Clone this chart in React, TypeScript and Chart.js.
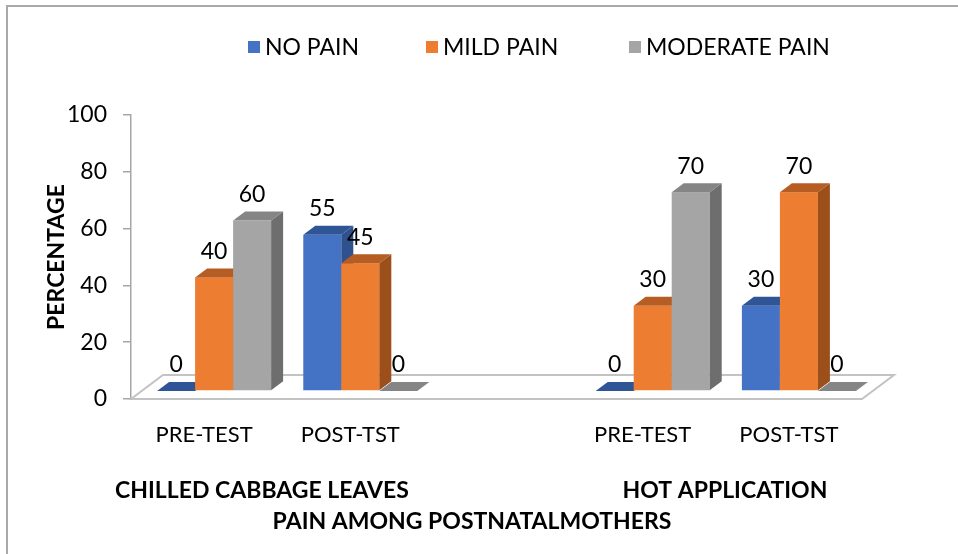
import React, { useEffect, useRef } from "react";
import { Chart, registerables } from "chart.js";

Chart.register(...registerables);

const categories = ["PRE-TEST", "POST-TST", "", "PRE-TEST", "POST-TST"];
const noPain = [0, 55, null, 0, 30];
const mildPain = [40, 45, null, 30, 70];
const moderatePain = [60, 0, null, 70, 0];
const seriesNames = ["NO PAIN", "MILD PAIN", "MODERATE PAIN"];
const groupLabels = ["CHILLED CABBAGE LEAVES", "HOT APPLICATION"];
const xTitle = "PAIN AMONG POSTNATALMOTHERS";
const yTitle = "PERCENTAGE";
const yMin = 0;
const yMax = 100;
const yStep = 20;

const FONT = "Lato, 'Open Sans', sans-serif";
const frontColors = ["#4472c4", "#ed7d31", "#a5a5a5"];
const topColors = ["#2f5597", "#b55d22", "#858585"];
const sideColors = ["#2f528f", "#9c4f1b", "#6e6e6e"];

const FRONT_DX = 10;
const FRONT_DY = -8;
const DEPTH_X = 12;
const DEPTH_Y = -9;
const FLOOR_DX = 32;
const FLOOR_DY = -24;

const legendX = [248, 426, 629];
const groupCenters = [262, 725];

const bar3d = {
  id: "bar3d",
  beforeDatasetDraw() {
    return false;
  },
  afterDatasetsDraw(chart: any) {
    const { ctx, chartArea } = chart;
    const ca = chartArea;
    ctx.save();
    ctx.strokeStyle = "#c3c3c3";
    ctx.lineWidth = 2;
    ctx.beginPath();
    ctx.moveTo(ca.left, ca.bottom);
    ctx.lineTo(ca.right, ca.bottom);
    ctx.lineTo(ca.right + FLOOR_DX, ca.bottom + FLOOR_DY);
    ctx.lineTo(ca.left + FLOOR_DX, ca.bottom + FLOOR_DY);
    ctx.closePath();
    ctx.stroke();

    const labels: any[] = [];
    const n = chart.data.labels.length;
    for (let i = 0; i < n; i++) {
      chart.data.datasets.forEach((ds: any, d: number) => {
        const v = ds.data[i];
        if (v === null || v === undefined) return;
        const el = chart.getDatasetMeta(d).data[i];
        const w = el.width;
        const x0 = el.x - w / 2 + FRONT_DX;
        const x1 = x0 + w;
        const yTop = el.y + FRONT_DY;
        const yBase = el.base + FRONT_DY;
        if (yBase - yTop > 0.5) {
          ctx.fillStyle = frontColors[d];
          ctx.fillRect(x0, yTop, w, yBase - yTop);
          ctx.fillStyle = sideColors[d];
          ctx.beginPath();
          ctx.moveTo(x1, yBase);
          ctx.lineTo(x1, yTop);
          ctx.lineTo(x1 + DEPTH_X, yTop + DEPTH_Y);
          ctx.lineTo(x1 + DEPTH_X, yBase + DEPTH_Y);
          ctx.closePath();
          ctx.fill();
        }
        ctx.fillStyle = topColors[d];
        ctx.beginPath();
        ctx.moveTo(x0, yTop);
        ctx.lineTo(x1, yTop);
        ctx.lineTo(x1 + DEPTH_X, yTop + DEPTH_Y);
        ctx.lineTo(x0 + DEPTH_X, yTop + DEPTH_Y);
        ctx.closePath();
        ctx.fill();
        labels.push({ x: x0 + w / 2, y: yTop - 26, t: String(v) });
      });
    }
    ctx.fillStyle = "#000";
    ctx.font = `23px ${FONT}`;
    ctx.textAlign = "center";
    ctx.textBaseline = "middle";
    labels.forEach((l) => ctx.fillText(l.t, l.x, l.y));
    ctx.restore();
  },
  afterDraw(chart: any) {
    const { ctx } = chart;
    ctx.save();
    ctx.font = `23px ${FONT}`;
    ctx.textBaseline = "middle";
    ctx.textAlign = "left";
    chart.data.datasets.forEach((ds: any, d: number) => {
      ctx.fillStyle = ds.backgroundColor;
      ctx.fillRect(legendX[d], 41, 12, 12);
      ctx.fillStyle = "#000";
      ctx.fillText(ds.label, legendX[d] + 17, 48);
    });
    ctx.font = `bold 23px ${FONT}`;
    ctx.textAlign = "center";
    groupLabels.forEach((g, k) => ctx.fillText(g, groupCenters[k], 491));
    ctx.fillText(xTitle, 472, 522);
    ctx.restore();
  },
};

export default function App() {
  const ref = useRef<HTMLCanvasElement | null>(null);
  useEffect(() => {
    if (!ref.current) return;
    const chart = new Chart(ref.current, {
      type: "bar",
      data: {
        labels: categories,
        datasets: [noPain, mildPain, moderatePain].map((data, d) => ({
          label: seriesNames[d],
          data,
          backgroundColor: frontColors[d],
          categoryPercentage: 0.78,
          barPercentage: 1,
        })),
      },
      options: {
        responsive: false,
        animation: false,
        layout: { padding: { top: 115, right: 96, left: 0, bottom: 0 } },
        plugins: { legend: { display: false }, tooltip: { enabled: false } },
        scales: {
          x: {
            grid: { display: false },
            border: { display: false },
            ticks: {
              font: { family: FONT, size: 22 },
              color: "#000",
              padding: 15,
              maxRotation: 0,
              autoSkip: false,
            },
            afterFit: (s: any) => {
              s.height = 155;
            },
          },
          y: {
            min: yMin,
            max: yMax,
            ticks: {
              stepSize: yStep,
              font: { family: FONT, size: 23 },
              color: "#000",
              padding: 16,
            },
            grid: {
              drawOnChartArea: false,
              drawTicks: true,
              tickLength: 8,
              color: "#a6a6a6",
              lineWidth: 1.5,
            },
            border: { color: "#a6a6a6", width: 1.5 },
            title: {
              display: true,
              text: yTitle,
              color: "#000",
              font: { family: FONT, size: 23, weight: "bold" },
              padding: { top: 43, bottom: 0 },
            },
            afterFit: (s: any) => {
              s.width = 131;
            },
          },
        },
      } as any,
      plugins: [bar3d],
    });
    return () => chart.destroy();
  }, []);
  return (
    <div
      style={{
        position: "fixed",
        left: 0,
        top: 0,
        width: 958,
        height: 554,
        overflow: "hidden",
        background: "#fff",
      }}
    >
      <div
        style={{
          position: "absolute",
          left: 6,
          top: 5,
          width: 2000,
          height: 2000,
          borderLeft: "2px solid #a9a9a9",
          borderTop: "2px solid #a9a9a9",
        }}
      />
      <canvas
        ref={ref}
        width={958}
        height={554}
        style={{ position: "absolute", left: 0, top: 0, display: "block" }}
      />
    </div>
  );
}
